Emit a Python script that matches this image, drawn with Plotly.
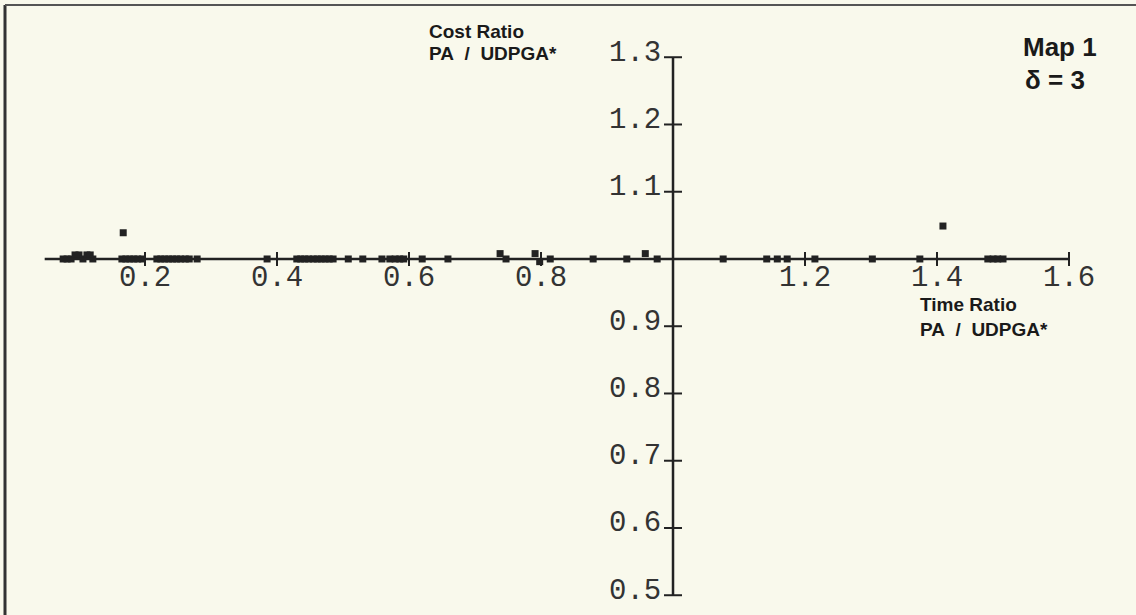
import plotly.graph_objects as go

# Time ratio (x) and cost ratio (y) of PA relative to UDPGA*, one marker per run
time_ratio = [
    0.076, 0.082, 0.088, 0.094, 0.100, 0.106, 0.112, 0.117, 0.121,
    0.165, 0.171, 0.177, 0.183, 0.189, 0.196,
    0.218, 0.224, 0.230, 0.236, 0.242, 0.248, 0.254, 0.261, 0.267, 0.279,
    0.385,
    0.430, 0.436, 0.442, 0.448, 0.455, 0.461, 0.467, 0.473, 0.479, 0.485,
    0.508, 0.530, 0.559, 0.571, 0.579, 0.586, 0.592, 0.620, 0.659,
    0.738, 0.747, 0.791, 0.798, 0.814,
    0.879, 0.930, 0.958, 0.976,
    1.076, 1.142, 1.158, 1.173, 1.215,
    1.302, 1.374, 1.477, 1.485, 1.492, 1.500,
    0.167, 1.409,
]
cost_ratio = [
    1.000, 1.000, 1.000, 1.006, 1.006, 1.000, 1.006, 1.006, 1.000,
    1.000, 1.000, 1.000, 1.000, 1.000, 1.000,
    1.000, 1.000, 1.000, 1.000, 1.000, 1.000, 1.000, 1.000, 1.000, 1.000,
    1.000,
    1.000, 1.000, 1.000, 1.000, 1.000, 1.000, 1.000, 1.000, 1.000, 1.000,
    1.000, 1.000, 1.000, 1.000, 1.000, 1.000, 1.000, 1.000, 1.000,
    1.008, 1.000, 1.008, 0.996, 1.000,
    1.000, 1.000, 1.008, 1.000,
    1.000, 1.000, 1.000, 1.000, 1.000,
    1.000, 1.000, 1.000, 1.000, 1.000, 1.000,
    1.039, 1.049,
]

# Axis ticks (axes cross at 1.0, 1.0)
x_ticks = [0.2, 0.4, 0.6, 0.8, 1.2, 1.4, 1.6]
x_tick_labels = ["0.2", "0.4", "0.6", "0.8", "1.2", "1.4", "1.6"]
y_ticks = [0.5, 0.6, 0.7, 0.8, 0.9, 1.1, 1.2, 1.3]
y_tick_labels = ["0.5", "0.6", "0.7", "0.8", "0.9", "1.1", "1.2", "1.3"]

X_START, X_END = 0.048, 1.6
Y_START, Y_END = 0.5, 1.3
ORIGIN = 1.0

INK = "#222222"
BG = "#f9f9ec"
MONO = "Liberation Mono, DejaVu Sans Mono, monospace"
SANS = "Liberation Sans, Arial, sans-serif"
NB = "\u00a0"

fig = go.Figure()

fig.add_trace(go.Scatter(
    x=time_ratio, y=cost_ratio, mode="markers",
    marker=dict(symbol="square", size=7, color=INK, line=dict(width=0)),
    hoverinfo="x+y", showlegend=False,
))

shapes = []
# Axis lines
shapes.append(dict(type="line", xref="x", yref="y", x0=X_START, x1=X_END,
                   y0=ORIGIN, y1=ORIGIN, line=dict(color=INK, width=2.5)))
shapes.append(dict(type="line", xref="x", yref="y", x0=ORIGIN, x1=ORIGIN,
                   y0=Y_START, y1=Y_END, line=dict(color=INK, width=2.5)))
# Tick marks crossing the axes
for v in x_ticks:
    shapes.append(dict(type="line", xref="x", yref="y", ysizemode="pixel",
                       yanchor=ORIGIN, x0=v, x1=v, y0=-7, y1=7,
                       line=dict(color=INK, width=2)))
for v in y_ticks:
    shapes.append(dict(type="line", xref="x", yref="y", xsizemode="pixel",
                       xanchor=ORIGIN, y0=v, y1=v, x0=-9, x1=9,
                       line=dict(color=INK, width=2)))
# Frame: left and top edges
shapes.append(dict(type="line", xref="paper", yref="paper", x0=5 / 1136, x1=5 / 1136,
                   y0=0, y1=1 - 5 / 615, line=dict(color="#333333", width=3)))
shapes.append(dict(type="line", xref="paper", yref="paper", x0=5 / 1136, x1=1,
                   y0=1 - 5 / 615, y1=1 - 5 / 615, line=dict(color="#555555", width=2)))

annotations = []
for v, t in zip(x_ticks, x_tick_labels):
    annotations.append(dict(x=v, y=ORIGIN, xref="x", yref="y", text=t,
                            showarrow=False, xanchor="center", yanchor="middle",
                            yshift=-20, font=dict(family=MONO, size=29, color="#333333")))
for v, t in zip(y_ticks, y_tick_labels):
    annotations.append(dict(x=ORIGIN, y=v, xref="x", yref="y", text=t,
                            showarrow=False, xanchor="right", yanchor="middle",
                            xshift=-10, yshift=4, font=dict(family=MONO, size=29, color="#333333")))


def px_note(text, x, y, size, anchor="left"):
    return dict(x=x / 1136, y=1 - y / 615, xref="paper", yref="paper", text=text,
                showarrow=False, xanchor=anchor, yanchor="middle",
                font=dict(family=SANS, size=size, color="#1a1a1a"))


pa_udpga = f"<b>PA{NB}{NB}/{NB}{NB}UDPGA*</b>"
annotations += [
    px_note("<b>Cost Ratio</b>", 427, 31, 19),
    px_note(pa_udpga, 427, 53, 19),
    px_note("<b>Time Ratio</b>", 918, 305, 19),
    px_note(pa_udpga, 918, 329, 19),
    px_note("<b>Map 1</b>", 1060, 47, 26, anchor="center"),
    px_note(f"<b>δ{NB}={NB}3</b>", 1055, 80, 26, anchor="center"),
]

# Ranges chosen so the axes cross at (1.0, 1.0) near the centre-right of the canvas
fig.update_layout(
    width=1136, height=615,
    margin=dict(l=0, r=0, t=0, b=0),
    paper_bgcolor=BG, plot_bgcolor=BG,
    xaxis=dict(range=[-0.0197, 1.7015], visible=False, fixedrange=True),
    yaxis=dict(range=[0.4706, 1.3851], visible=False, fixedrange=True),
    shapes=shapes, annotations=annotations,
    showlegend=False,
)

fig.write_html("out.html")
